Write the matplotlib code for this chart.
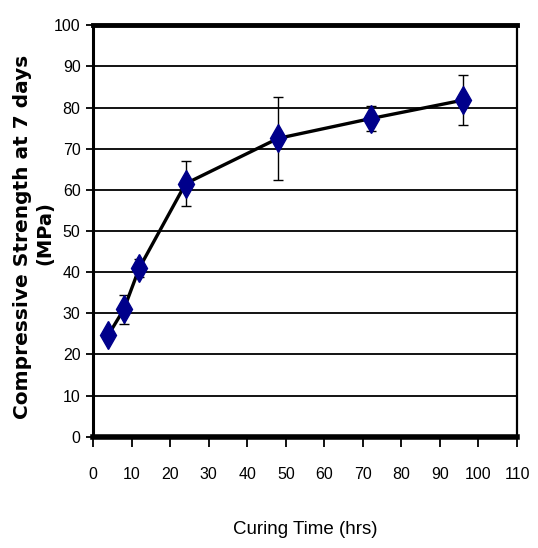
import matplotlib
matplotlib.use('Agg')
import matplotlib.pyplot as plt

# curing time (hrs) and 7-day compressive strength (MPa)
curing_time = [4, 8, 12, 24, 48, 72, 96]
strength = [24.8, 31.0, 41.0, 61.5, 72.5, 77.3, 81.8]
strength_err = [1.0, 3.5, 2.3, 5.4, 10.0, 3.0, 6.0]

x_ticks = list(range(0, 111, 10))
y_ticks = list(range(0, 101, 10))

narrow = ['Liberation Sans Narrow', 'Liberation Sans', 'DejaVu Sans']


def plot_strength(out_file='out.png'):
	fig = plt.figure(figsize=(5.38, 5.48), dpi=100)
	ax = fig.add_axes([0.173, 0.203, 0.788, 0.751])

	for y in y_ticks[1:-1]:
		ax.axhline(y, color='black', linewidth=1.3, zorder=1)

	ax.plot(curing_time, strength, color='black', linewidth=2.4, zorder=2)
	ax.errorbar(curing_time, strength, yerr=strength_err, fmt='none',
				ecolor='black', elinewidth=1.0, capsize=3.3, capthick=1.0, zorder=3)
	ax.plot(curing_time, strength, linestyle='none', marker='d',
			markersize=14, color='#00008b', markeredgecolor='#00008b', zorder=4)

	ax.set_xlim(0, 110)
	ax.set_ylim(0, 100)
	ax.set_xticks(x_ticks)
	ax.set_yticks(y_ticks)
	ax.set_xticklabels([str(t) for t in x_ticks], family=narrow, fontsize=11.5)
	ax.set_yticklabels([str(t) for t in y_ticks], family=narrow, fontsize=11.5)
	ax.tick_params(axis='x', direction='out', length=7, width=1.3, pad=15)
	ax.tick_params(axis='y', direction='out', length=5, width=1.3, pad=4)

	ax.spines['left'].set_linewidth(2.2)
	ax.spines['bottom'].set_linewidth(4.0)
	ax.spines['top'].set_linewidth(3.5)
	ax.spines['right'].set_linewidth(1.6)

	ax.set_xlabel('Curing Time (hrs)', family=narrow, fontsize=13.5, labelpad=28)
	fig.text(0.041, 0.568, 'Compressive Strength at 7 days', rotation=90,
			 ha='center', va='center', fontsize=14.5, fontweight='bold',
			 family='DejaVu Sans')
	fig.text(0.084, 0.575, '(MPa)', rotation=90, ha='center', va='center',
			 fontsize=14, fontweight='bold', family='DejaVu Sans')

	fig.savefig(out_file, dpi=100)


def main():
	plot_strength('out.png')


if __name__ == '__main__':
	main()
